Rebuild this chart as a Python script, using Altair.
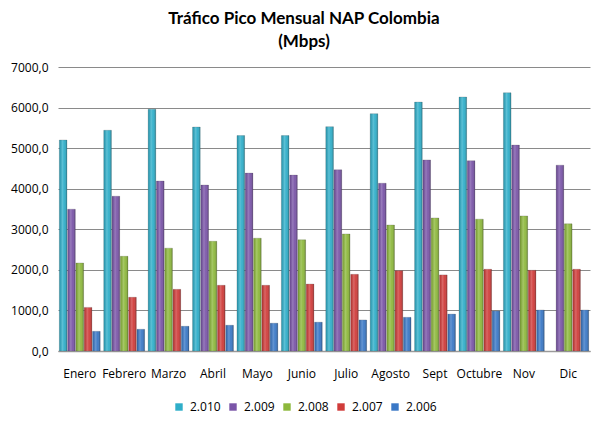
import altair as alt
import pandas as pd

months = ["Enero", "Febrero", "Marzo", "Abril", "Mayo", "Junio", "Julio",
          "Agosto", "Sept", "Octubre", "Nov", "Dic"]
series = ["2.010", "2.009", "2.008", "2.007", "2.006"]
v2010 = [5200, 5440, 5960, 5520, 5310, 5310, 5530, 5850, 6135, 6260, 6365, None]
v2009 = [3495, 3815, 4190, 4090, 4385, 4335, 4465, 4135, 4710, 4690, 5075, 4580]
v2008 = [2170, 2335, 2535, 2705, 2780, 2740, 2885, 3105, 3280, 3250, 3330, 3135]
v2007 = [1075, 1325, 1520, 1620, 1620, 1650, 1890, 1980, 1875, 2015, 1990, 2015]
v2006 = [485, 535, 610, 635, 685, 710, 765, 830, 910, 985, 1010, 1010]
colors = ["#2FAEC9", "#7A55A8", "#8DB83C", "#D03C3A", "#3A78C6"]

rows = []
for s, vals in zip(series, [v2010, v2009, v2008, v2007, v2006]):
    for m, v in zip(months, vals):
        rows.append({"Mes": m, "Serie": s, "Valor": v})
df = pd.DataFrame(rows)

x_enc = alt.X("Mes:N", sort=months,
              scale=alt.Scale(paddingInner=0.08, paddingOuter=0.03),
              axis=alt.Axis(title=None, labelAngle=0, ticks=False, labelPadding=17,
                            labelFontSize=12, labelColor="#000000",
                            domainColor="#9a9a9a", domainWidth=1.5))
xo_enc = alt.XOffset("Serie:N", sort=series,
                     scale=alt.Scale(domain=series, paddingInner=0.08))
y_enc = alt.Y("Valor:Q", scale=alt.Scale(domain=[0, 7000]),
              axis=alt.Axis(title=None, values=[0, 1000, 2000, 3000, 4000, 5000, 6000, 7000],
                            labelExpr="replace(format(datum.value, '.1f'), '.', ',')",
                            ticks=False, domain=False, labelPadding=10,
                            labelFontSize=12, labelColor="#000000",
                            gridColor="#8a8a8a", gridWidth=1))

base = alt.Chart(df).mark_bar(stroke="#3a3a3a", strokeWidth=0.4, strokeOpacity=0.5).encode(
    x=x_enc, xOffset=xo_enc, y=y_enc,
    color=alt.Color("Serie:N", sort=series,
                    scale=alt.Scale(domain=series, range=colors),
                    legend=alt.Legend(title=None, orient="none", direction="horizontal",
                                      columns=5, legendX=115, legendY=334,
                                      symbolType="square", symbolSize=55,
                                      symbolStrokeWidth=0, labelFontSize=12,
                                      labelOffset=5,
                                      labelColor="#000000", columnPadding=6)),
)

shade = alt.Chart(df).mark_bar(
    color=alt.Gradient(
        gradient="linear", x1=0, x2=1, y1=0, y2=0,
        stops=[
            alt.GradientStop(color="rgba(0,0,0,0.12)", offset=0),
            alt.GradientStop(color="rgba(255,255,255,0.22)", offset=0.4),
            alt.GradientStop(color="rgba(255,255,255,0.05)", offset=0.65),
            alt.GradientStop(color="rgba(0,0,0,0.28)", offset=1),
        ],
    )
).encode(x=x_enc, xOffset=xo_enc, y=y_enc, detail="Serie:N")

chart = alt.layer(base, shade).properties(
    width=532, height=284,
    title=alt.TitleParams(["Tráfico Pico Mensual NAP Colombia", "(Mbps)"],
                          fontSize=17, font="Lato", fontWeight="bold",
                          color="#000000", anchor="middle", dx=-20, offset=10,
                          lineHeight=23),
    autosize=alt.AutoSizeParams(type="none"),
    padding={"left": 50, "top": 59, "right": 8, "bottom": 72},
).configure(font="Open Sans").configure_view(stroke=None)

chart.save("out.html", embed_options={"renderer": "svg", "actions": False})
